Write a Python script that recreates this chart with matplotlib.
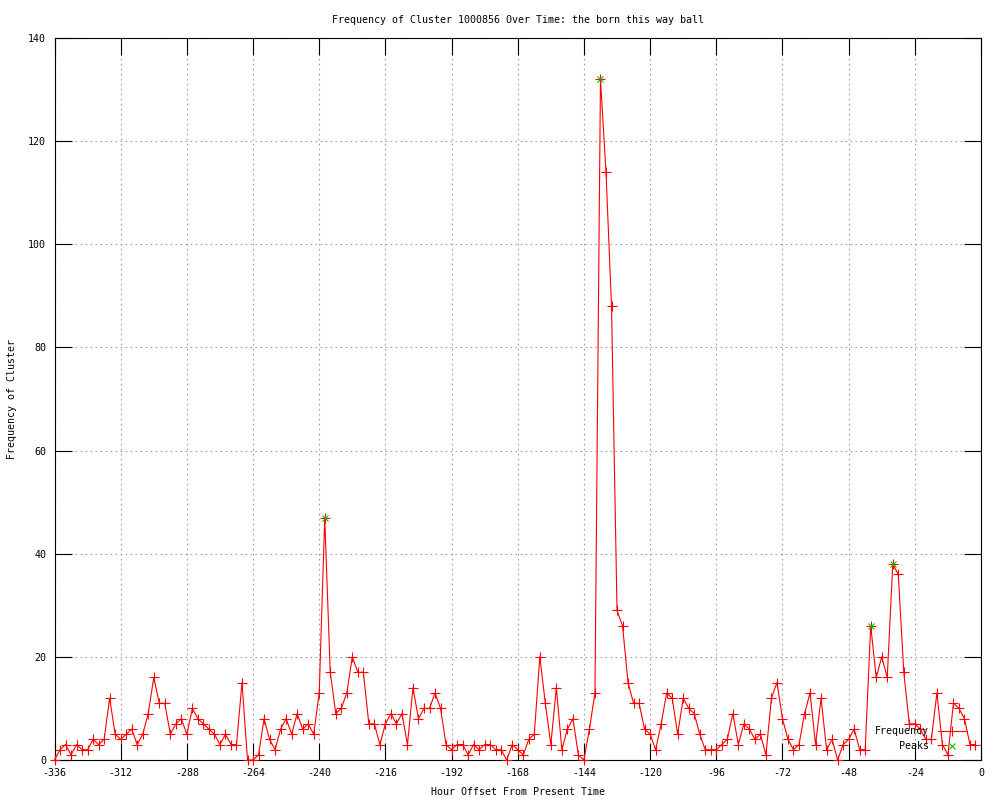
"""
Cluster frequency over time (gnuplot-style look)
"""

from matplotlib import pyplot as plt

# hourly offsets, every 2 hours from -336 up to -2
hours = list(range(-336, 0, 2))

freq = [0, 2, 3, 1, 3, 2, 2, 4, 3, 4, 12, 5, 4, 5, 6, 3, 5, 9, 16, 11, 11, 5, 7, 8,
        5, 10, 8, 7, 6, 5, 3, 5, 3, 3, 15, 0, 0, 1, 8, 4, 2, 6, 8, 5, 9, 6, 7, 5, 13,
        47, 17, 9, 10, 13, 20, 17, 17, 7, 7, 3, 7, 9, 7, 9, 3, 14, 8, 10, 10, 13, 10, 3, 2,
        3, 3, 1, 3, 2, 3, 3, 2, 2, 0, 3, 2, 1, 4, 5, 20, 11, 3, 14, 2, 6, 8, 1, 0, 6,
        13, 132, 114, 88, 29, 26, 15, 11, 11, 6, 5, 2, 7, 13, 12, 5, 12, 10, 9, 5, 2, 2, 2, 3,
        4, 9, 3, 7, 6, 4, 5, 1, 12, 15, 8, 4, 2, 3, 9, 13, 3, 12, 2, 4, 0, 3, 4, 6, 2,
        2, 26, 16, 20, 16, 38, 36, 17, 7, 7, 6, 4, 4, 13, 3, 1, 11, 10, 8, 3, 3]

peak_hours = [-238, -138, -40, -32]
peak_freq = [47, 132, 26, 38]

x_ticks = list(range(-336, 1, 24))
y_ticks = list(range(0, 141, 20))

plt.rcParams['font.family'] = ['DejaVu Sans Mono']
plt.rcParams['font.size'] = 7.2
plt.rcParams['axes.unicode_minus'] = False

fig = plt.figure(figsize=(10, 8), dpi=100)
axes = fig.add_axes([0.0545, 0.05, 0.9265, 0.9025])

axes.plot(hours, freq, color='#ff0000', linewidth=0.8, marker='+',
          markersize=6.5, markeredgewidth=0.8, label='Frequency', clip_on=False, zorder=3)
axes.plot(peak_hours, peak_freq, linestyle='none', color='#00c000', marker='x',
          markersize=5, markeredgewidth=0.8, label='Peaks', zorder=4)

axes.set_xlim(-336, 0)
axes.set_ylim(0, 140)
axes.set_xticks(x_ticks)
axes.set_yticks(y_ticks)
axes.tick_params(direction='in', length=12, width=0.8, top=True, right=True,
                 labelsize=7.2, pad=6, colors='black')
axes.grid(True, color='#a0a0a0', linestyle=(0, (1.5, 3)), linewidth=0.8)
for s in axes.spines.values():
    s.set_linewidth(0.8)

axes.set_title('Frequency of Cluster 1000856 Over Time: the born this way ball',
               fontsize=7.2, pad=11)
axes.set_xlabel('Hour Offset From Present Time', fontsize=7.2, labelpad=6)
axes.set_ylabel('Frequency of Cluster', fontsize=7.2, labelpad=8)

axes.legend(loc='lower right', bbox_to_anchor=(0.99, 0.005), frameon=False,
            markerfirst=False, handlelength=2.9, handletextpad=0.9,
            labelspacing=0.5, borderpad=0, fontsize=7.2)

fig.savefig('out.png', dpi=100)
